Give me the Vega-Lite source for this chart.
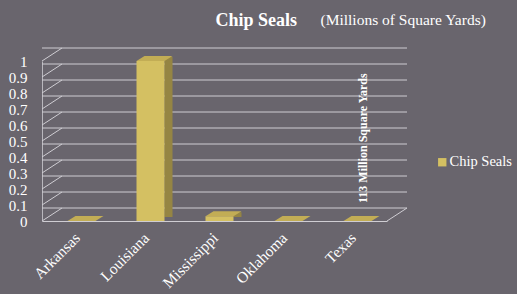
{
  "$schema": "https://vega.github.io/schema/vega-lite/v6.json",
  "autosize": "none",
  "width": 345,
  "height": 160,
  "padding": {"left": 42, "top": 61, "right": 130, "bottom": 73},
  "background": "#69656d",
  "config": {
    "view": {"stroke": null},
    "font": "Liberation Serif"
  },
  "datasets": {
    "bars": [
      {"state": "Arkansas", "value": 0, "series": "Chip Seals"},
      {"state": "Louisiana", "value": 1, "series": "Chip Seals"},
      {"state": "Mississippi", "value": 0.03, "series": "Chip Seals"},
      {"state": "Oklahoma", "value": 0, "series": "Chip Seals"},
      {"state": "Texas", "value": 0, "series": "Chip Seals"}
    ],
    "grid": [
      {"tick": 0}, {"tick": 0.1}, {"tick": 0.2}, {"tick": 0.3}, {"tick": 0.4}, {"tick": 0.5},
      {"tick": 0.6}, {"tick": 0.7}, {"tick": 0.8}, {"tick": 0.9}, {"tick": 1}
    ],
    "note": [
      {"state": "Texas", "value": 0, "label": "113 Million Square Yards"}
    ]
  },
  "resolve": {"axis": {"x": "independent", "y": "independent"}},
  "layer": [
    {
      "data": {"name": "grid"},
      "mark": {"type": "rule", "color": "#cfcdd3", "strokeWidth": 1, "xOffset": 20, "yOffset": -13},
      "encoding": {
        "y": {
          "field": "tick", "type": "quantitative", "scale": {"domain": [0, 1]},
          "axis": {
            "orient": "right",
            "labels": false,
            "ticks": false,
            "domain": false,
            "grid": false,
            "title": "Chip Seals",
            "titleAngle": 0,
            "titleFont": "Liberation Serif",
            "titleFontSize": 18,
            "titleFontWeight": "bold",
            "titleColor": "#ffffff",
            "titleAnchor": null,
            "titleAlign": "left",
            "titleBaseline": "alphabetic",
            "titleX": -172,
            "titleY": -36
          }
        }
      }
    },
    {
      "data": {"name": "grid"},
      "mark": {
        "type": "point",
        "shape": "M0,0 L20,-13",
        "size": 4,
        "filled": false,
        "opacity": 1,
        "stroke": "#cfcdd3",
        "strokeWidth": 1,
        "xOffset": -34.5
      },
      "encoding": {
        "x": {"datum": "Arkansas", "type": "nominal", "scale": {"domain": ["Arkansas", "Louisiana", "Mississippi", "Oklahoma", "Texas"], "paddingInner": 0, "paddingOuter": 0}, "axis": null},
        "y": {"field": "tick", "type": "quantitative", "scale": {"domain": [0, 1]}, "axis": null}
      }
    },
    {
      "data": {"name": "note"},
      "mark": {
        "type": "point",
        "shape": "M0,0 L20,-13",
        "size": 4,
        "filled": false,
        "opacity": 1,
        "stroke": "#cfcdd3",
        "strokeWidth": 1,
        "xOffset": 34.5
      },
      "encoding": {
        "x": {"field": "state", "type": "nominal", "scale": {"domain": ["Arkansas", "Louisiana", "Mississippi", "Oklahoma", "Texas"], "paddingInner": 0, "paddingOuter": 0}, "axis": null},
        "y": {"field": "value", "type": "quantitative", "scale": {"domain": [0, 1]}, "axis": null}
      }
    },
    {
      "data": {"name": "bars"},
      "mark": {"type": "bar", "width": 8, "xOffset": 23, "yOffset": -4, "color": "#958543"},
      "encoding": {
        "x": {"field": "state", "type": "nominal", "scale": {"domain": ["Arkansas", "Louisiana", "Mississippi", "Oklahoma", "Texas"], "paddingInner": 0, "paddingOuter": 0}, "axis": null},
        "y": {"field": "value", "type": "quantitative", "scale": {"domain": [0, 1]}, "axis": null}
      }
    },
    {
      "data": {"name": "bars"},
      "mark": {"type": "bar", "width": 28, "xOffset": 5},
      "encoding": {
        "x": {
          "field": "state", "type": "nominal",
          "scale": {"domain": ["Arkansas", "Louisiana", "Mississippi", "Oklahoma", "Texas"], "paddingInner": 0, "paddingOuter": 0},
          "axis": {
            "title": null,
            "labelAngle": -45,
            "labelAlign": "right",
            "labelBaseline": "middle",
            "labelPadding": 14,
            "labelOffset": 1,
            "labelFont": "Liberation Serif",
            "labelFontSize": 15.5,
            "labelColor": "#ffffff",
            "labelOverlap": false,
            "ticks": false,
            "domainColor": "#cfcdd3",
            "domainWidth": 1
          }
        },
        "y": {
          "field": "value", "type": "quantitative",
          "scale": {"domain": [0, 1]},
          "axis": {
            "title": null,
            "values": [0, 0.1, 0.2, 0.3, 0.4, 0.5, 0.6, 0.7, 0.8, 0.9, 1],
            "format": ".1~f",
            "labelOverlap": false,
            "grid": false,
            "ticks": false,
            "labelPadding": 15,
            "labelFont": "Liberation Serif",
            "labelFontSize": 15,
            "labelColor": "#ffffff",
            "domainColor": "#b9b7bd",
            "domainWidth": 1
          }
        },
        "color": {
          "field": "series", "type": "nominal",
          "scale": {"range": ["#d4c062"]},
          "legend": {
            "title": null,
            "orient": "none",
            "legendX": 393,
            "legendY": 94,
            "symbolType": "square",
            "symbolSize": 70,
            "symbolStrokeWidth": 0,
            "labelFont": "Liberation Serif",
            "labelFontSize": 14.5,
            "labelColor": "#ffffff",
            "labelOffset": 0
          }
        }
      }
    },
    {
      "data": {"name": "bars"},
      "mark": {
        "type": "point",
        "filled": true,
        "opacity": 1,
        "size": 4,
        "xOffset": 5,
        "shape": "M-14,0 L14,0 L22,-5 L-6,-5 Z",
        "color": "#c2ad55",
        "strokeWidth": 0
      },
      "encoding": {
        "x": {
          "field": "state", "type": "nominal",
          "scale": {"domain": ["Arkansas", "Louisiana", "Mississippi", "Oklahoma", "Texas"], "paddingInner": 0, "paddingOuter": 0},
          "axis": {
            "orient": "top",
            "labels": false,
            "ticks": false,
            "domain": false,
            "title": "(Millions of  Square Yards)",
            "titleFont": "Liberation Serif",
            "titleFontSize": 15.5,
            "titleFontWeight": "normal",
            "titleColor": "#ffffff",
            "titleAnchor": null,
            "titleAlign": "left",
            "titleBaseline": "alphabetic",
            "titleX": 278,
            "titleY": -37
          }
        },
        "y": {"field": "value", "type": "quantitative", "scale": {"domain": [0, 1]}, "axis": null}
      }
    },
    {
      "data": {"name": "note"},
      "mark": {
        "type": "text",
        "angle": 270,
        "align": "left",
        "baseline": "middle",
        "xOffset": 10,
        "yOffset": -18,
        "font": "Liberation Serif",
        "fontSize": 12,
        "fontWeight": "bold",
        "color": "#ffffff"
      },
      "encoding": {
        "x": {"field": "state", "type": "nominal", "scale": {"domain": ["Arkansas", "Louisiana", "Mississippi", "Oklahoma", "Texas"], "paddingInner": 0, "paddingOuter": 0}, "axis": null},
        "y": {"field": "value", "type": "quantitative", "scale": {"domain": [0, 1]}, "axis": null},
        "text": {"field": "label"}
      }
    }
  ]
}
